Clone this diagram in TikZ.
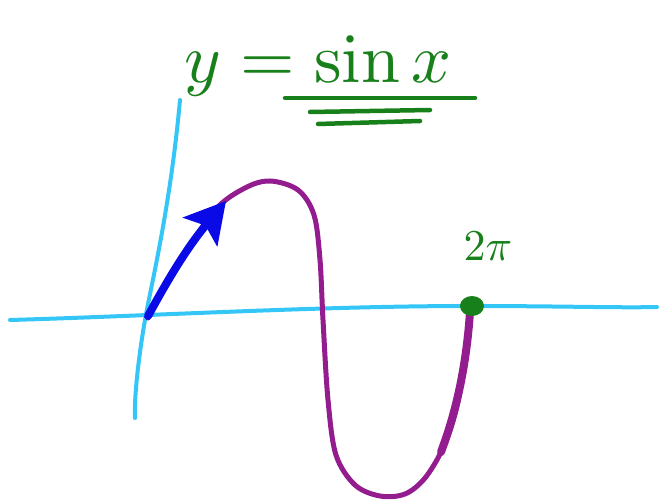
\documentclass[tikz,border=0pt]{standalone}
\usepackage{amsmath}
\usepackage{graphicx}
\usetikzlibrary{arrows.meta,shapes.geometric}
\definecolor{AxisBlue}{HTML}{33C6F6}
\definecolor{CurvePurple}{HTML}{931C8E}
\definecolor{PenGreen}{HTML}{18801A}
\definecolor{PenBlue}{HTML}{0A0AE6}

\begin{document}
\begin{tikzpicture}[x=1pt, y=-1pt, line cap=round, line join=round,
  axisline/.style={AxisBlue, line width=4pt},
  curveline/.style={CurvePurple, line width=5pt},
  greenpen/.style={PenGreen, line width=4.5pt}]
  \useasboundingbox (0,0) rectangle (661,502);

  % Axes
  \draw[axisline] (10,320) .. controls (150,316) and (320,306) .. (470,306)
    .. controls (560,306) and (620,308) .. (657,307);
  \draw[axisline] (180,100) .. controls (170,210) and (150,290) .. (145,320)
    .. controls (138,360) and (134,400) .. (135,418);

  % Points on the curve
  \coordinate (origin) at (148,316);
  \coordinate (arrowtip) at (226,201);

  % Sine curve
  \draw[curveline] plot[smooth, tension=0.55] coordinates {
    (148,318) (180,262) (215,210) (245,188) (270,181) (298,190) (314,215)
    (320,260) (323,320) (328,400) (336,455) (355,485) (380,496) (405,494)
    (425,478) (443,448) (456,410) (465,360) (470,310)};
  \draw[CurvePurple, line width=8pt] (441,452) .. controls (455,415) and (466,370) .. (470,312);

  % Arrow along the curve
  \draw[PenBlue, line width=8pt, -{Stealth[length=40pt, width=44pt, inset=8pt]}]
    (origin) .. controls (165,285) and (185,250) .. (arrowtip);

  % Point 2pi
  \node[ellipse, fill=PenGreen, minimum width=24pt, minimum height=20pt, inner sep=0pt]
    (dotpi) at (472,306) {};
  \node[PenGreen] (labelpi) at (488,246) {\scalebox{4.4}{$2\pi$}};

  % Title
  \node[PenGreen, anchor=base] (title) at (318,83) {\scalebox{7}{$y=\sin x$}};
  \draw[greenpen] (285,98) -- (475,98);
  \draw[greenpen] (310,112) -- (430,110);
  \draw[greenpen] (318,124) -- (420,121);
\end{tikzpicture}
\end{document}
